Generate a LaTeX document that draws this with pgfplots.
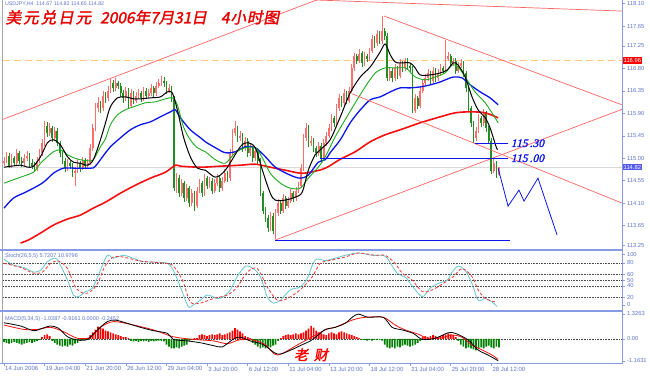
\documentclass[border=0pt]{standalone}
\usepackage{pgfplots}
\pgfplotsset{compat=1.18}
\usepackage{pgfplotstable}
\usepackage{fontspec}
\setmainfont{Liberation Sans}
\newfontfamily\cjk[FakeSlant=0.2,FakeBold=2]{Noto Sans CJK SC}
\newfontfamily\serifbi[FakeBold=1.5,FakeSlant=0.25]{Liberation Serif}
\definecolor{axblue}{RGB}{135,155,230}
\definecolor{lblblue}{RGB}{95,115,205}
\definecolor{upc}{RGB}{250,110,110}
\definecolor{dnc}{RGB}{35,140,35}
\definecolor{magreen}{RGB}{30,170,30}
\definecolor{mablue}{RGB}{10,20,235}
\definecolor{mared}{RGB}{245,15,15}
\definecolor{trend}{RGB}{250,100,100}
\definecolor{orng}{RGB}{255,200,125}
\definecolor{stochc}{RGB}{100,200,205}
\definecolor{titlered}{RGB}{230,0,0}
\definecolor{histred}{RGB}{250,0,0}
\definecolor{histgreen}{RGB}{0,128,0}

\pgfplotstableread{
i o h l c
0 114.90 115.02 114.85 114.95
1 114.95 115.12 114.90 115.05
2 115.05 115.10 114.80 114.85
3 114.85 115.08 114.80 115.00
4 115.00 115.05 114.84 114.90
5 114.90 115.18 114.86 115.10
6 115.10 115.15 114.88 114.95
7 114.95 115.02 114.82 114.90
8 114.90 115.08 114.85 115.00
9 115.00 115.15 114.95 115.05
10 115.05 115.10 114.82 114.90
11 114.90 114.98 114.78 114.85
12 114.85 114.92 114.72 114.80
13 114.80 115.02 114.75 114.95
14 114.95 115.18 114.90 115.10
15 115.10 115.38 115.05 115.30
16 115.30 115.75 115.25 115.65
17 115.65 115.72 115.42 115.50
18 115.50 115.70 115.45 115.60
19 115.60 115.65 115.32 115.40
20 115.40 115.62 115.35 115.55
21 115.55 115.60 115.25 115.30
22 115.30 115.35 115.02 115.10
23 115.10 115.15 114.88 114.95
24 114.95 115.00 114.72 114.80
25 114.80 114.98 114.75 114.90
26 114.90 114.95 114.78 114.85
27 114.85 114.90 114.62 114.70
28 114.70 114.82 114.45 114.75
29 114.75 114.98 114.70 114.90
30 114.90 114.95 114.72 114.80
31 114.80 115.02 114.76 114.95
32 114.95 115.00 114.78 114.85
33 114.85 114.98 114.80 114.90
34 114.90 115.28 114.86 115.20
35 115.20 115.68 115.15 115.60
36 115.60 116.10 115.55 116.00
37 116.00 116.22 115.92 116.10
38 116.10 116.15 115.90 116.00
39 116.00 116.35 115.95 116.25
40 116.25 116.32 116.10 116.20
41 116.20 116.45 116.15 116.35
42 116.35 116.58 116.30 116.50
43 116.50 116.56 116.32 116.40
44 116.40 116.60 116.35 116.50
45 116.50 116.55 116.38 116.45
46 116.45 116.50 116.22 116.30
47 116.30 116.36 116.10 116.20
48 116.20 116.42 116.15 116.35
49 116.35 116.40 115.98 116.05
50 116.05 116.38 116.00 116.30
51 116.30 116.35 116.08 116.15
52 116.15 116.32 116.10 116.25
53 116.25 116.38 116.18 116.30
54 116.30 116.35 116.12 116.20
55 116.20 116.42 116.15 116.35
56 116.35 116.40 116.18 116.25
57 116.25 116.38 116.20 116.30
58 116.30 116.48 116.25 116.40
59 116.40 116.45 116.22 116.30
60 116.30 116.52 116.25 116.45
61 116.45 116.58 116.40 116.50
62 116.50 116.65 116.45 116.55
63 116.55 116.62 116.42 116.50
64 116.50 116.55 116.28 116.35
65 116.35 116.48 116.30 116.40
66 116.40 116.45 116.12 116.20
67 116.20 116.25 114.35 114.40
68 114.40 114.70 114.30 114.60
69 114.60 114.66 114.22 114.30
70 114.30 114.58 114.25 114.50
71 114.50 114.55 114.12 114.20
72 114.20 114.48 114.15 114.40
73 114.40 114.45 114.02 114.10
74 114.10 114.38 114.05 114.30
75 114.30 114.35 113.95 114.05
76 114.05 114.42 114.00 114.35
77 114.35 114.58 114.30 114.50
78 114.50 114.55 114.22 114.30
79 114.30 114.68 114.25 114.60
80 114.60 114.65 114.38 114.45
81 114.45 114.62 114.40 114.55
82 114.55 114.60 114.28 114.35
83 114.35 114.58 114.30 114.50
84 114.50 114.68 114.45 114.60
85 114.60 114.65 114.32 114.40
86 114.40 114.62 114.35 114.55
87 114.55 114.78 114.50 114.70
88 114.70 114.75 114.52 114.60
89 114.60 115.18 114.55 115.10
90 115.10 115.58 115.05 115.50
91 115.50 115.75 115.45 115.60
92 115.60 115.65 115.32 115.40
93 115.40 115.55 115.35 115.45
94 115.45 115.50 115.12 115.20
95 115.20 115.42 115.15 115.35
96 115.35 115.40 115.02 115.10
97 115.10 115.28 115.05 115.20
98 115.20 115.25 114.92 115.00
99 115.00 115.22 114.95 115.15
100 115.15 115.20 114.88 114.95
101 114.95 115.00 114.25 114.30
102 114.30 114.35 113.88 113.95
103 113.95 114.02 113.72 113.80
104 113.80 113.86 113.52 113.60
105 113.60 113.92 113.55 113.85
106 113.85 113.90 113.48 113.55
107 113.55 113.98 113.38 113.90
108 113.90 114.18 113.85 114.10
109 114.10 114.15 113.88 113.95
110 113.95 114.28 113.90 114.20
111 114.20 114.25 113.98 114.05
112 114.05 114.22 114.00 114.15
113 114.15 114.38 114.10 114.30
114 114.30 114.35 114.12 114.20
115 114.20 114.42 114.15 114.35
116 114.35 114.52 114.30 114.45
117 114.45 114.88 114.40 114.80
118 114.80 115.48 114.75 115.40
119 115.40 115.70 115.35 115.60
120 115.60 115.66 115.22 115.30
121 115.30 115.45 115.25 115.35
122 115.35 115.40 115.12 115.20
123 115.20 115.25 115.02 115.10
124 115.10 115.32 115.05 115.25
125 115.25 115.30 114.92 115.00
126 115.00 115.38 114.95 115.30
127 115.30 115.52 115.25 115.45
128 115.45 115.68 115.40 115.60
129 115.60 115.88 115.55 115.80
130 115.80 115.85 115.62 115.70
131 115.70 116.08 115.65 116.00
132 116.00 116.28 115.95 116.20
133 116.20 116.25 116.02 116.10
134 116.10 116.38 116.05 116.30
135 116.30 116.35 116.08 116.15
136 116.15 116.42 116.10 116.35
137 116.35 116.88 116.30 116.80
138 116.80 117.12 116.75 117.05
139 117.05 117.10 116.88 116.95
140 116.95 117.18 116.90 117.10
141 117.10 117.15 116.82 116.90
142 116.90 117.12 116.85 117.05
143 117.05 117.10 116.92 117.00
144 117.00 117.22 116.95 117.15
145 117.15 117.48 117.10 117.40
146 117.40 117.45 117.22 117.30
147 117.30 117.58 117.25 117.50
148 117.50 117.55 117.28 117.35
149 117.35 117.85 117.30 117.55
150 117.55 117.62 117.38 117.45
151 117.45 117.52 116.55 116.60
152 116.60 116.82 116.55 116.75
153 116.75 116.80 116.52 116.60
154 116.60 116.88 116.55 116.80
155 116.80 116.85 116.58 116.65
156 116.65 116.98 116.60 116.90
157 116.90 116.95 116.72 116.80
158 116.80 117.02 116.75 116.95
159 116.95 117.00 116.78 116.85
160 116.85 116.90 116.72 116.80
161 116.80 116.85 115.90 115.95
162 115.95 116.28 115.90 116.20
163 116.20 116.25 115.98 116.05
164 116.05 116.42 116.00 116.35
165 116.35 116.58 116.30 116.50
166 116.50 116.68 116.45 116.60
167 116.60 116.78 116.55 116.70
168 116.70 116.75 116.48 116.55
169 116.55 116.82 116.50 116.75
170 116.75 116.80 116.52 116.60
171 116.60 116.78 116.55 116.70
172 116.70 116.88 116.65 116.80
173 116.80 116.85 116.68 116.75
174 116.75 117.37 116.70 117.00
175 117.00 117.12 116.95 117.05
176 117.05 117.10 116.82 116.90
177 116.90 117.02 116.85 116.95
178 116.95 117.00 116.68 116.75
179 116.75 116.92 116.70 116.85
180 116.85 116.98 116.80 116.90
181 116.90 116.95 116.62 116.70
182 116.70 116.75 116.32 116.40
183 116.40 116.45 115.92 116.00
184 116.00 116.05 115.62 115.70
185 115.70 115.75 115.30 115.40
186 115.40 115.62 115.35 115.55
187 115.55 115.88 115.50 115.80
188 115.80 115.85 115.62 115.70
189 115.70 115.98 115.65 115.90
190 115.90 115.95 115.52 115.60
191 115.60 115.65 115.28 115.35
192 115.35 115.40 114.68 114.75
193 114.75 114.98 114.70 114.90
194 114.90 114.95 114.60 114.70
195 114.67 114.82 114.65 114.82
}\candles

\pgfplotstableread{
i h
0 -0.15
1 -0.2
2 -0.25
3 -0.2
4 -0.15
5 -0.2
6 -0.25
7 -0.3
8 -0.25
9 -0.2
10 -0.15
11 -0.2
12 -0.15
13 -0.1
14 -0.05
15 0.1
16 0.2
17 0.25
18 0.15
19 -0.1
20 -0.2
21 -0.3
22 -0.35
23 -0.4
24 -0.35
25 -0.4
26 -0.3
27 -0.35
28 -0.25
29 -0.2
30 -0.1
31 -0.05
32 -0.05
33 0.05
34 0.2
35 0.35
36 0.5
37 0.65
38 0.6
39 0.55
40 0.45
41 0.4
42 0.35
43 0.3
44 0.25
45 0.2
46 0.15
47 0.1
48 0.1
49 0.05
50 -0.1
51 -0.12
52 -0.1
53 -0.15
54 -0.1
55 -0.12
56 -0.1
57 -0.15
58 -0.1
59 -0.12
60 -0.1
61 -0.08
62 -0.1
63 -0.12
64 -0.3
65 -0.4
66 -0.5
67 -0.5
68 -0.45
69 -0.5
70 -0.4
71 -0.35
72 -0.3
73 -0.1
74 -0.05
75 0.05
76 0.05
77 0.2
78 0.25
79 0.2
80 0.15
81 0.2
82 0.25
83 0.2
84 0.25
85 0.3
86 0.2
87 0.25
88 0.3
89 0.35
90 0.45
91 0.58
92 0.5
93 0.4
94 0.3
95 0.15
96 0.1
97 0.05
98 -0.2
99 -0.3
100 -0.4
101 -0.5
102 -0.45
103 -0.5
104 -0.4
105 -0.45
106 -0.35
107 -0.3
108 -0.1
109 0.05
110 0.15
111 0.2
112 0.25
113 0.2
114 0.25
115 0.3
116 0.25
117 0.3
118 0.35
119 0.45
120 0.55
121 0.69
122 0.6
123 0.45
124 0.35
125 0.3
126 0.25
127 0.2
128 0.3
129 0.35
130 0.3
131 0.25
132 0.35
133 0.4
134 0.35
135 0.3
136 0.25
137 0.2
138 0.15
139 0.1
140 0.05
141 -0.05
142 -0.05
143 -0.08
144 -0.05
145 -0.08
146 -0.05
147 -0.05
148 -0.05
149 -0.08
150 -0.3
151 -0.45
152 -0.5
153 -0.45
154 -0.5
155 -0.4
156 -0.45
157 -0.35
158 -0.3
159 -0.35
160 -0.4
161 -0.35
162 -0.3
163 -0.2
164 -0.1
165 0.1
166 0.15
167 0.1
168 0.15
169 0.2
170 0.15
171 0.1
172 0.15
173 0.2
174 0.25
175 0.3
176 0.25
177 0.2
178 0.1
179 -0.1
180 -0.3
181 -0.4
182 -0.5
183 -0.45
184 -0.5
185 -0.55
186 -0.6
187 -0.5
188 -0.45
189 -0.5
190 -0.4
191 -0.35
192 -0.45
193 -0.5
194 -0.4
195 -0.45
}\macdhist

\pgfplotsset{
 panel/.style={scale only axis, width=619pt, xmin=-0.4, xmax=243.5,
   axis line style={draw=none}, xtick=\empty, ytick pos=right, yticklabel pos=right,
   tick align=outside, major tick length=2.5pt,
   tick style={draw=axblue, line width=0.5pt},
   yticklabel style={font=\fontsize{5.8}{6}\selectfont, text=lblblue, xshift=-1pt},
   clip mode=individual},
 wick/.style={draw=none, mark=none, forget plot,
   error bars/y dir=both, error bars/y explicit, error bars/error mark=none,
   error bars/error bar style={draw=#1, line width=0.7pt}},
 body/.style={draw=none, mark=none, forget plot,
   error bars/y dir=both, error bars/y explicit, error bars/error mark=none,
   error bars/error bar style={draw=#1, line width=1.7pt}},
}

\begin{document}
\begin{tikzpicture}

% ---------------- main price panel ----------------
\begin{axis}[panel, at={(3pt,127pt)}, anchor=south west, height=248pt,
  ymin=113.2, ymax=118.172,
  ytick={113.25,113.65,114.10,114.55,115.00,115.45,115.90,116.35,116.80,117.25,117.65,118.10},
  yticklabels={113.25,113.65,114.10,114.55,115.00,115.45,115.90,116.35,116.80,117.25,117.65,118.10}]
\addplot[orng, line width=1.3pt, dash pattern=on 7pt off 4pt, forget plot] coordinates {(-0.4,116.96) (243.5,116.96)};
\addplot[black!15, line width=1.3pt, forget plot] coordinates {(-0.4,114.82) (243.5,114.82)};

% candles
\addplot[restrict expr to domain={\thisrow{c}-\thisrow{o}}{0:10}, wick=upc]
  table[x=i, y expr={(\thisrow{h}+\thisrow{l})/2}, y error expr={(\thisrow{h}-\thisrow{l})/2}] {\candles};
\addplot[restrict expr to domain={\thisrow{c}-\thisrow{o}}{-10:-0.0001}, wick=dnc]
  table[x=i, y expr={(\thisrow{h}+\thisrow{l})/2}, y error expr={(\thisrow{h}-\thisrow{l})/2}] {\candles};
\addplot[restrict expr to domain={\thisrow{c}-\thisrow{o}}{0:10}, body=upc]
  table[x=i, y expr={(\thisrow{o}+\thisrow{c})/2}, y error expr={abs(\thisrow{c}-\thisrow{o})/2}] {\candles};
\addplot[restrict expr to domain={\thisrow{c}-\thisrow{o}}{-10:-0.0001}, body=dnc]
  table[x=i, y expr={(\thisrow{o}+\thisrow{c})/2}, y error expr={abs(\thisrow{c}-\thisrow{o})/2}] {\candles};

% moving averages
\addplot[mared, line width=1.6pt, smooth, tension=0.5] coordinates {
(6.5,113.30) (9.6,113.36) (14.4,113.50) (19.5,113.66) (25.0,113.78) (30.1,113.86) (35.2,114.00) (40.0,114.12) (45.9,114.30) (51.8,114.46) (57.7,114.60) (63.6,114.72) (67.5,114.86) (69.5,114.84) (77.4,114.82) (85.2,114.84) (93.1,114.86) (99.0,114.88) (104.9,114.82) (110.8,114.76) (116.7,114.70) (120.7,114.72) (126.6,114.80) (132.5,114.98) (138.4,115.13) (144.3,115.33) (150.2,115.47) (156.1,115.57) (164.0,115.71) (171.9,115.83) (177.8,115.91) (183.7,115.93) (189.6,115.91) (194.7,115.81)};
\addplot[mablue, line width=1.3pt, smooth, tension=0.5] coordinates {
(0,114.00) (3.7,114.20) (7.7,114.30) (11.6,114.40) (15.6,114.52) (19.5,114.70) (23.4,114.80) (28.1,114.80) (34.1,114.80) (36.0,114.84) (40.0,115.11) (41.9,115.23) (45.9,115.41) (49.8,115.57) (53.7,115.67) (57.7,115.73) (61.6,115.83) (65.6,115.93) (67.5,115.97) (69.5,115.81) (73.4,115.57) (77.4,115.41) (79.3,115.33) (83.3,115.21) (87.2,115.11) (91.1,115.13) (95.1,115.23) (99.0,115.21) (103.0,115.03) (106.9,114.82) (112.8,114.66) (116.7,114.60) (119.9,114.66) (123.8,114.92) (126.6,114.97) (128.5,115.11) (132.5,115.37) (136.4,115.71) (140.4,115.97) (144.3,116.17) (148.2,116.23) (152.2,116.33) (156.1,116.41) (160.0,116.41) (164.0,116.43) (167.9,116.47) (171.9,116.53) (175.8,116.61) (177.8,116.63) (180.5,116.61) (183.7,116.47) (187.6,116.33) (191.5,116.21) (194.7,116.07)};
\addplot[magreen, line width=0.9pt, smooth, tension=0.5] coordinates {
(0,114.50) (6.5,114.62) (11.6,114.72) (14.4,114.90) (17.1,115.03) (19.5,115.13) (22.2,115.17) (25.0,115.07) (27.4,115.01) (30.1,114.97) (32.9,114.95) (35.2,114.97) (38.0,115.23) (40.0,115.39) (41.9,115.67) (44.7,115.87) (47.8,115.97) (51.0,116.03) (55.7,116.11) (59.6,116.13) (63.6,116.19) (66.3,116.21) (68.3,116.07) (70.7,115.63) (73.4,115.37) (76.2,115.21) (79.3,115.13) (83.3,114.97) (87.2,114.90) (91.1,115.11) (95.1,115.21) (99.0,115.21) (101.8,115.01) (104.9,114.70) (108.9,114.50) (112.8,114.40) (116.7,114.40) (119.9,114.60) (123.8,114.82) (126.6,115.03) (130.5,115.43) (134.4,115.77) (138.4,116.11) (142.3,116.43) (146.3,116.71) (150.2,116.81) (154.1,116.81) (158.1,116.81) (160.0,116.73) (162.0,116.63) (166.0,116.57) (169.9,116.63) (173.8,116.71) (176.6,116.87) (178.9,116.83) (181.7,116.63) (185.6,116.33) (189.6,116.11) (193.5,115.81) (194.7,115.71)};
\addplot[black, line width=1pt, smooth, tension=0.5] coordinates {
(0,114.82) (6.5,114.86) (9.3,114.82) (11.6,114.84) (14.4,115.03) (17.1,115.31) (19.5,115.37) (22.2,115.27) (25.0,115.03) (27.4,114.92) (30.1,114.90) (32.9,114.86) (35.2,114.97) (38.0,115.37) (40.0,115.71) (41.9,116.03) (44.7,116.21) (47.8,116.23) (51.0,116.19) (53.7,116.19) (57.7,116.21) (61.6,116.23) (64.4,116.33) (66.3,116.31) (68.3,115.97) (70.7,115.43) (73.4,115.03) (76.2,114.80) (79.3,114.76) (83.3,114.62) (87.2,114.76) (93.1,115.23) (95.9,115.31) (99.0,115.21) (101.8,114.76) (104.9,114.30) (106.9,114.16) (110.8,114.16) (114.8,114.22) (117.5,114.32) (119.9,114.76) (122.6,115.07) (124.6,115.17) (128.5,115.37) (132.5,115.83) (136.4,116.31) (140.4,116.63) (144.3,116.83) (148.2,117.13) (150.2,117.29) (152.2,117.07) (154.1,116.93) (156.1,116.91) (160.0,116.91) (162.0,116.81) (164.0,116.67) (167.9,116.67) (171.9,116.71) (174.6,116.77) (177.0,116.91) (178.9,116.87) (181.7,116.63) (184.4,116.23) (186.8,115.97) (189.6,115.81) (191.5,115.61) (193.9,115.23) (194.5,115.17)};

% trend lines
\addplot[trend, line width=0.7pt] coordinates {(-0.4,115.78) (124.6,118.20)};
\addplot[trend, line width=0.7pt] coordinates {(123.0,118.172) (243.5,117.95)};
\addplot[trend, line width=0.7pt] coordinates {(106.9,113.36) (243.5,115.98)};
\addplot[trend, line width=0.7pt] coordinates {(149.8,117.85) (243.5,116.07)};
\addplot[trend, line width=0.7pt] coordinates {(137.2,116.29) (243.5,114.10)};

% horizontal levels and forecast
\addplot[mablue, line width=0.8pt] coordinates {(124.6,115.00) (198.6,115.00)};
\addplot[mablue, line width=0.8pt] coordinates {(185.6,115.30) (198.6,115.30)};
\addplot[mablue, line width=0.8pt] coordinates {(106.9,113.36) (199.4,113.36)};
\addplot[mablue, line width=0.8pt] coordinates {(194.7,114.80) (198.6,114.04) (202.9,114.36) (204.9,114.14) (210.4,114.60) (217.9,113.46)};

\node[anchor=west, text=mablue, font=\serifbi\fontsize{11.5}{11.5}\selectfont, inner sep=0pt] at (axis cs:199.6,115.30) {115\kern2pt.30};
\node[anchor=west, text=mablue, font=\serifbi\fontsize{11.5}{11.5}\selectfont, inner sep=0pt] at (axis cs:199.6,115.00) {115\kern2pt.00};

\node[anchor=west, text=lblblue, font=\fontsize{5.3}{6}\selectfont, inner sep=0pt] at (rel axis cs:0.003,0.982) {USDJPY,H4\ \ 114.67 114.82 114.65 114.82};
\node[anchor=west, text=titlered, font=\cjk\fontsize{15.5}{16}\selectfont, inner sep=0pt] at (rel axis cs:0.004,0.93) {美\kern2pt元\kern2pt兑\kern2pt日\kern2pt元\kern9pt 2006年7月31日\kern14pt 4\kern1pt小\kern1pt时\kern1pt图};

\node[anchor=west, fill=red, text=white, font=\fontsize{5.8}{6}\selectfont, inner xsep=1pt, inner ysep=1pt, xshift=0.5pt] at (axis cs:243.5,116.96) {116.96};
\node[anchor=west, fill=mablue!70, text=white, font=\fontsize{5.8}{6}\selectfont, inner xsep=1pt, inner ysep=1pt, xshift=0.5pt] at (axis cs:243.5,114.82) {114.82};
\end{axis}

% ---------------- stochastic panel ----------------
\begin{axis}[panel, at={(3pt,65pt)}, anchor=south west, height=59pt,
  ymin=-2, ymax=100.5,
  ytick={6.7,20,40,50,60,80,94}, yticklabels={0,20,40,50,60,80,100}]
\addplot[black!70, densely dotted, line width=0.6pt, forget plot] coordinates {(-0.4,80) (243.5,80)};
\addplot[black!70, densely dotted, line width=0.6pt, forget plot] coordinates {(-0.4,60) (243.5,60)};
\addplot[black!70, densely dotted, line width=0.6pt, forget plot] coordinates {(-0.4,50) (243.5,50)};
\addplot[black!70, densely dotted, line width=0.6pt, forget plot] coordinates {(-0.4,40) (243.5,40)};
\addplot[black!70, densely dotted, line width=0.6pt, forget plot] coordinates {(-0.4,20) (243.5,20)};
\addplot[stochc, line width=0.8pt, smooth, tension=0.5] coordinates {
(0,86) (3.7,76) (7.7,72) (11.6,64) (14.4,67) (17.1,82) (20.3,88) (22.2,76) (25,50) (27.4,24) (29.3,21) (32.1,30) (34.8,36) (38,67) (40.7,93) (43.1,88) (47,93) (51,88) (54.9,82) (60.4,81) (64.4,79) (66.7,67) (69.5,38) (72.6,4) (74.6,7) (77.4,15) (80.1,24) (84.1,18) (86.4,21) (89.2,33) (91.9,56) (95.1,74) (98.2,70) (101,56) (103.7,21) (106.1,10) (108.9,15) (112.8,33) (116.7,38) (119.5,53) (122.6,85) (126.6,84) (130.5,88) (134.4,93) (139.6,97) (145.1,93) (149,93) (151,88) (154.9,62) (158.1,55) (161.2,38) (164.8,21) (167.9,36) (171.1,44) (174.6,50) (176.6,64) (178.9,74) (181.7,67) (184.4,44) (186.8,15) (189.6,18) (192.3,12) (194.3,4)};
\addplot[mared!85, line width=0.8pt, densely dashed, smooth, tension=0.5] coordinates {
(0,79) (6.5,72) (11.6,62) (15.2,64) (18.3,79) (21.5,83) (25,70) (28.1,38) (31.3,27) (34.1,30) (36.8,44) (40,76) (43.1,90) (47,90) (53.7,83) (61.6,80) (66.3,76) (70.3,50) (73.4,12) (77.4,10) (82.5,18) (88,24) (91.9,38) (95.9,64) (99.8,70) (103.7,38) (107.7,15) (111.6,18) (116.7,33) (121.5,56) (124.6,79) (129.3,85) (134.4,90) (139.6,97) (146.3,93) (150.2,93) (154.1,79) (156.9,62) (160.8,50) (164.8,30) (168.7,33) (173,44) (177,56) (180.5,70) (184.4,56) (186.8,33) (189.6,18) (193.5,12)};
\node[anchor=west, text=lblblue, font=\fontsize{5.5}{6}\selectfont, inner sep=0pt] at (rel axis cs:0.003,0.91) {Stoch(26,5,5) 5.7207 10.9796};
\end{axis}

% ---------------- MACD panel ----------------
\begin{axis}[panel, at={(3pt,12pt)}, anchor=south west, height=51.5pt,
  ymin=-1.272, ymax=1.457,
  ytick={-1.1631,0,1.3263}, yticklabels={-1.1631,0.00,1.3263},
  xtick={0,16,32,48,64,80,96,112,128,144,160,176,192},
  xticklabels={14 Jun 2006,19 Jun 04:00,21 Jun 20:00,26 Jun 12:00,29 Jun 04:00,3 Jul 20:00,6 Jul 12:00,11 Jul 04:00,13 Jul 20:00,18 Jul 12:00,21 Jul 04:00,25 Jul 20:00,28 Jul 12:00},
  xtick pos=bottom,
  xticklabel style={anchor=north west, font=\fontsize{6}{6}\selectfont, text=lblblue, inner sep=0pt, xshift=1pt, yshift=-1pt}]
\addplot[black!70, densely dotted, line width=0.6pt, forget plot] coordinates {(-0.4,0) (243.5,0)};
\addplot[ybar, bar width=1.7pt, bar shift=0pt, draw=none, fill=histred, restrict y to domain=0:5] table[x=i, y=h] {\macdhist};
\addplot[ybar, bar width=1.7pt, bar shift=0pt, draw=none, fill=histgreen, restrict y to domain=-5:0] table[x=i, y=h] {\macdhist};
\addplot[mared, line width=0.8pt, smooth, tension=0.5] coordinates {
(0,0.74) (7.7,0.51) (13.2,0.51) (18.3,0.62) (23.4,0.39) (28.9,0.04) (34.1,0.09) (38,0.62) (43.1,0.92) (51,0.74) (58.9,0.48) (66.7,0.12) (74.6,-0.02) (82.5,-0.1) (88,-0.25) (92.5,-0.05) (98,-0.05) (103,-0.3) (107.7,-0.85) (116.7,-0.23) (126.6,0.48) (130.5,0.62) (137.2,1.0) (142.3,1.15) (149.4,1.15) (154.1,0.74) (158.1,0.48) (163.2,0.26) (167.1,0.02) (172.6,0.07) (176.6,0.21) (180.5,0.09) (184.4,-0.32) (188.4,-0.58) (192.3,-0.85) (194.7,-1.08)};
\addplot[black, line width=0.8pt, smooth, tension=0.5] coordinates {
(0,0.86) (6.5,0.69) (11.6,0.44) (15.2,0.57) (18.3,0.69) (21.5,0.57) (25,0.12) (28.9,-0.05) (32.9,-0.02) (36.8,0.48) (40.7,0.92) (43.9,1.0) (48.6,0.83) (53.7,0.62) (58.9,0.44) (64.4,0.30) (66.7,-0.02) (72.2,-0.1) (77.4,-0.2) (82.5,-0.35) (86,-0.42) (90.4,0.0) (93.1,0.1) (97,-0.1) (102.2,-0.3) (107.7,-0.8) (112.8,-0.6) (116.7,-0.35) (120.7,-0.1) (124.6,0.3) (126.6,0.51) (130.5,0.62) (134.4,0.83) (137.2,1.15) (139.6,1.32) (143.5,1.15) (149.4,1.15) (152.9,0.62) (156.9,0.48) (161.2,0.30) (164.8,-0.02) (169.9,0.04) (175,0.33) (177.8,0.30) (182.9,-0.05) (186.8,-0.58) (190.7,-0.85) (194.7,-1.15)};
\node[anchor=west, text=lblblue, font=\fontsize{5.5}{6}\selectfont, inner sep=0pt] at (rel axis cs:0.003,0.86) {MACD(5,34,5) -1.0387 -0.9161 0.0000 -0.2452};
\node[text=red, font=\cjk\fontsize{14}{14}\selectfont, inner sep=0pt] at (rel axis cs:0.4976,0.16) {老\kern6pt财};
\end{axis}

% frame
\draw[black!35, line width=0.6pt] (2.5pt,375pt) -- (2.5pt,12pt);
\draw[axblue, line width=1.8pt] (0pt,125.3pt) -- (623pt,125.3pt);
\draw[axblue, line width=1.8pt] (0pt,64.3pt) -- (623pt,64.3pt);
\draw[axblue, line width=1pt] (0pt,11.5pt) -- (623pt,11.5pt);
\draw[axblue, line width=1pt] (622.5pt,375pt) -- (622.5pt,11pt);
\pgfresetboundingbox
\useasboundingbox (0pt,0pt) rectangle (650pt,375pt);
\end{tikzpicture}
\end{document}
